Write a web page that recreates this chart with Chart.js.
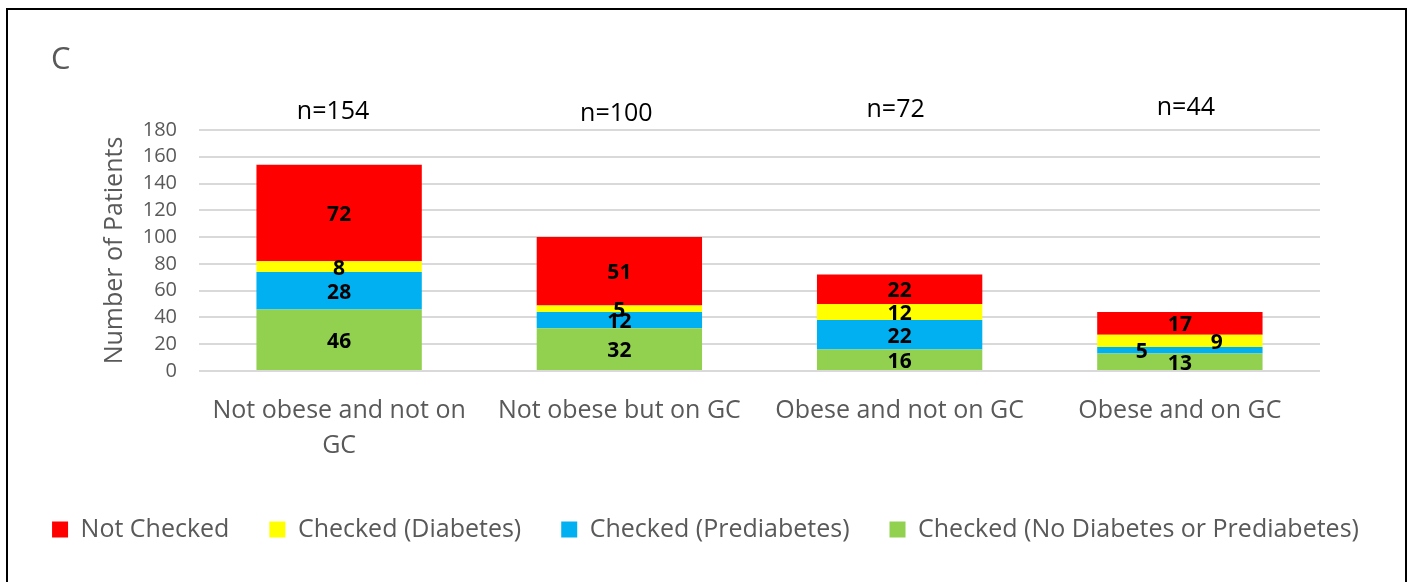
<!DOCTYPE html>
<html>
<head>
<meta charset="utf-8">
<script src="https://cdn.jsdelivr.net/npm/chart.js@4.4.0/dist/chart.umd.min.js"></script>
<style>
  html, body { margin: 0; padding: 0; background: #fff; overflow: hidden; }
  #frame {
    position: absolute; left: 6px; top: 8px; width: 1401px; height: 600px;
    border: 2px solid #000; box-sizing: border-box;
  }
  #wrap { position: absolute; left: 0; top: 0; width: 1411px; height: 582px; }
</style>
</head>
<body>
<div id="frame"></div>
<div id="wrap"><canvas id="chart"></canvas></div>
<script>
const categories = [
  ["Not obese and not on", "GC"],
  "Not obese but on GC",
  "Obese and not on GC",
  "Obese and on GC"
];
const checkedNone  = [46, 32, 16, 13];
const checkedPre   = [28, 12, 22, 5];
const checkedDiab  = [8, 5, 12, 9];
const notChecked   = [72, 51, 22, 17];
const nLabels = ["n=154", "n=100", "n=72", "n=44"];
const yTicks = [0, 20, 40, 60, 80, 100, 120, 140, 160, 180];

const FONT = "'Open Sans', sans-serif";
const GRAY = "#595959";

Chart.defaults.font.family = FONT;
Chart.defaults.color = GRAY;

// bold numbers inside the bar segments
const segmentLabels = {
  id: "segmentLabels",
  afterDatasetsDraw(chart) {
    const ctx = chart.ctx;
    // two thin segments on the last bar had their labels moved aside in the original
    const nudge = { "1-3": -38, "2-3": 37 };
    ctx.save();
    ctx.font = "bold 21px " + FONT;
    ctx.fillStyle = "#000";
    ctx.textAlign = "center";
    ctx.textBaseline = "middle";
    chart.data.datasets.forEach((ds, di) => {
      const meta = chart.getDatasetMeta(di);
      meta.data.forEach((bar, i) => {
        const x = bar.x + (nudge[di + "-" + i] || 0);
        const y = (bar.y + bar.base) / 2 + 2;
        ctx.fillText(String(ds.data[i]), x, y);
      });
    });
    ctx.restore();
  }
};

// "C" panel letter and n= totals above bars
const extras = {
  id: "extras",
  afterDraw(chart) {
    const ctx = chart.ctx;
    ctx.save();
    ctx.fillStyle = GRAY;
    ctx.font = "31px " + FONT;
    ctx.textAlign = "left";
    ctx.textBaseline = "middle";
    ctx.fillText("C", 51, 60);

    ctx.fillStyle = "#000";
    ctx.font = "25px " + FONT;
    ctx.textAlign = "center";
    const meta = chart.getDatasetMeta(0);
    const dx = [-6, -3, -4, 6];
    const ys = [112, 114, 110, 108];
    meta.data.forEach((bar, i) => {
      ctx.fillText(nLabels[i], bar.x + dx[i], ys[i]);
    });
    ctx.restore();
  }
};

new Chart(document.getElementById("chart"), {
  type: "bar",
  data: {
    labels: categories,
    datasets: [
      { label: "Checked (No Diabetes or Prediabetes)", data: checkedNone, backgroundColor: "#92D050" },
      { label: "Checked (Prediabetes)", data: checkedPre, backgroundColor: "#00B0F0" },
      { label: "Checked (Diabetes)", data: checkedDiab, backgroundColor: "#FFFF00" },
      { label: "Not Checked", data: notChecked, backgroundColor: "#FF0000" }
    ]
  },
  options: {
    responsive: true,
    maintainAspectRatio: false,
    animation: false,
    layout: { padding: { left: 10, right: 10, top: 130, bottom: 30 } },
    datasets: { bar: { barPercentage: 0.59, categoryPercentage: 1 } },
    plugins: {
      legend: {
        position: "bottom",
        reverse: true,
        labels: {
          boxWidth: 16, boxHeight: 16, padding: 40,
          color: GRAY, font: { size: 25 }
        }
      },
      tooltip: { enabled: false }
    },
    scales: {
      x: {
        stacked: true,
        grid: { display: false, drawTicks: false },
        border: { display: false },
        ticks: { color: GRAY, font: { size: 25, lineHeight: 1.4 }, padding: 22, maxRotation: 0, autoSkip: false },
        afterFit: s => { s.height = 106; }
      },
      y: {
        stacked: true,
        min: 0, max: 180,
        afterBuildTicks: s => { s.ticks = yTicks.map(v => ({ value: v })); },
        grid: { color: "#D9D9D9", lineWidth: 2, drawTicks: false },
        border: { display: false },
        ticks: { color: GRAY, font: { size: 20 }, padding: 22, autoSkip: false },
        title: { display: true, text: "Number of Patients", color: GRAY, font: { size: 25 }, padding: { top: 90, bottom: 4 } },
        afterFit: s => { s.width = 189; }
      },
      // empty right-hand axis, only there to leave the blank margin right of the plot
      yRight: {
        position: "right",
        display: true,
        grid: { display: false, drawTicks: false },
        border: { display: false },
        ticks: { display: false },
        afterFit: s => { s.width = 81; }
      }
    }
  },
  plugins: [segmentLabels, extras]
});
</script>
</body>
</html>
